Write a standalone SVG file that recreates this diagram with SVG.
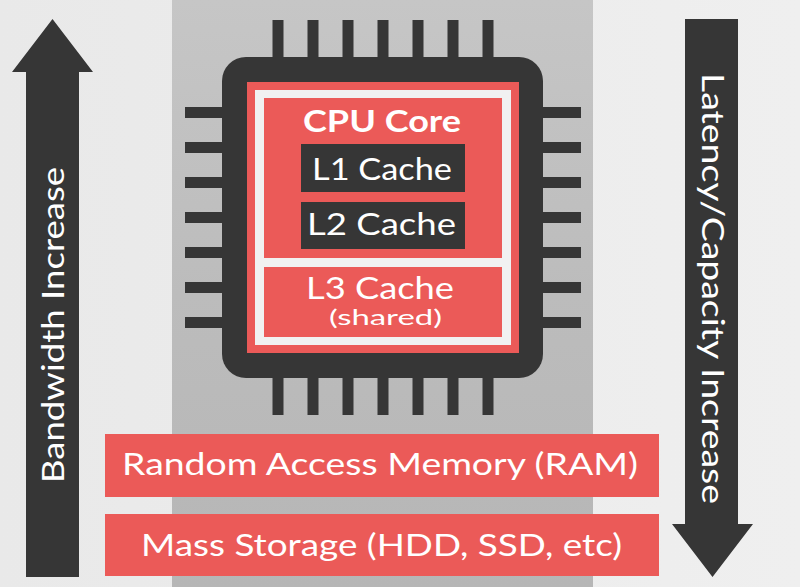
<svg xmlns="http://www.w3.org/2000/svg" width="800" height="587" viewBox="0 0 800 587">
  <defs>
    <linearGradient id="bandGrad" x1="0" y1="0" x2="0" y2="1">
      <stop offset="0" stop-color="#c6c6c6"/>
      <stop offset="0.5" stop-color="#bcbcbc"/>
      <stop offset="1" stop-color="#b6b6b6"/>
    </linearGradient>
    <linearGradient id="sideGrad" x1="0" y1="0" x2="1" y2="0">
      <stop offset="0" stop-color="#e9e9e9"/>
      <stop offset="1" stop-color="#efefef"/>
    </linearGradient>
  </defs>
  <style>
    .dark { fill: #363636; }
    .red { fill: #eb5a58; }
    .frame { fill: #f1f1f1; }
    .txt { font-family: "Lato", "Open Sans", "Liberation Sans", sans-serif; fill: #ffffff; text-anchor: middle; font-size: 31px; }
    .bold { font-weight: 700; }
  </style>

  <!-- background -->
  <rect x="0" y="0" width="800" height="587" fill="url(#sideGrad)"/>
  <rect x="172" y="0" width="421" height="587" fill="url(#bandGrad)"/>

  <!-- connectors (direction arrows) -->
  <g id="connectors">
    <polygon class="dark" points="52.5,19 93,72 79,72 79,577 26,577 26,72 12,72"/>
    <polygon class="dark" points="685,19 738,19 738,524 753,524 712.5,577 672,524 685,524"/>
  </g>

  <g id="label-bandwidth">
    <text class="txt" font-size="31" transform="translate(64,325) rotate(-90)" textLength="316" lengthAdjust="spacingAndGlyphs">Bandwidth Increase</text>
  </g>
  <g id="label-latency">
    <text class="txt" font-size="31" transform="translate(702,288.5) rotate(90)" textLength="431" lengthAdjust="spacingAndGlyphs">Latency/Capacity Increase</text>
  </g>

  <!-- CPU chip -->
  <g id="cpu-chip">
    <g class="dark">
      <!-- top pins -->
      <rect x="272.5" y="20" width="11" height="40"/>
      <rect x="307.5" y="20" width="11" height="40"/>
      <rect x="342.5" y="20" width="11" height="40"/>
      <rect x="377.5" y="20" width="11" height="40"/>
      <rect x="412.5" y="20" width="11" height="40"/>
      <rect x="447.5" y="20" width="11" height="40"/>
      <rect x="482.5" y="20" width="11" height="40"/>
      <!-- bottom pins -->
      <rect x="272.5" y="375" width="11" height="40"/>
      <rect x="307.5" y="375" width="11" height="40"/>
      <rect x="342.5" y="375" width="11" height="40"/>
      <rect x="377.5" y="375" width="11" height="40"/>
      <rect x="412.5" y="375" width="11" height="40"/>
      <rect x="447.5" y="375" width="11" height="40"/>
      <rect x="482.5" y="375" width="11" height="40"/>
      <!-- left pins -->
      <rect x="185" y="107" width="40" height="11"/>
      <rect x="185" y="142" width="40" height="11"/>
      <rect x="185" y="177" width="40" height="11"/>
      <rect x="185" y="212" width="40" height="11"/>
      <rect x="185" y="247" width="40" height="11"/>
      <rect x="185" y="282" width="40" height="11"/>
      <rect x="185" y="317" width="40" height="11"/>
      <!-- right pins -->
      <rect x="540" y="107" width="41" height="11"/>
      <rect x="540" y="142" width="41" height="11"/>
      <rect x="540" y="177" width="41" height="11"/>
      <rect x="540" y="212" width="41" height="11"/>
      <rect x="540" y="247" width="41" height="11"/>
      <rect x="540" y="282" width="41" height="11"/>
      <rect x="540" y="317" width="41" height="11"/>
      <!-- body -->
      <rect x="222" y="57" width="321" height="321" rx="24" ry="24"/>
    </g>
    <rect class="red" x="247" y="82" width="272" height="271"/>
    <rect class="frame" x="255" y="90" width="256" height="255"/>
  </g>

  <g id="cpu-core">
    <rect class="red" x="264" y="98" width="238" height="160"/>
    <text class="txt bold" x="382" y="132" font-size="29" textLength="158" lengthAdjust="spacingAndGlyphs">CPU Core</text>
  </g>

  <g id="l1-cache">
    <rect class="dark" x="301" y="144" width="164" height="48"/>
    <text class="txt" x="382" y="180" textLength="140" lengthAdjust="spacingAndGlyphs">L1 Cache</text>
  </g>

  <g id="l2-cache">
    <rect class="dark" x="301" y="202" width="164" height="47"/>
    <text class="txt" x="381.5" y="235" textLength="149" lengthAdjust="spacingAndGlyphs">L2 Cache</text>
  </g>

  <g id="l3-cache">
    <rect class="red" x="264" y="267" width="238" height="70"/>
    <text class="txt"><tspan x="380" y="299" font-size="30" textLength="148" lengthAdjust="spacingAndGlyphs">L3 Cache</tspan><tspan x="385.5" y="325" font-size="21" textLength="113" lengthAdjust="spacingAndGlyphs">(shared)</tspan></text>
  </g>

  <g id="ram">
    <rect class="red" x="105" y="434" width="554" height="63"/>
    <text class="txt" x="380" y="475" textLength="516" lengthAdjust="spacingAndGlyphs">Random Access Memory (RAM)</text>
  </g>

  <g id="mass-storage">
    <rect class="red" x="105" y="514" width="554" height="62"/>
    <text class="txt" x="381.5" y="556" textLength="481" lengthAdjust="spacingAndGlyphs">Mass Storage (HDD, SSD, etc)</text>
  </g>
</svg>
